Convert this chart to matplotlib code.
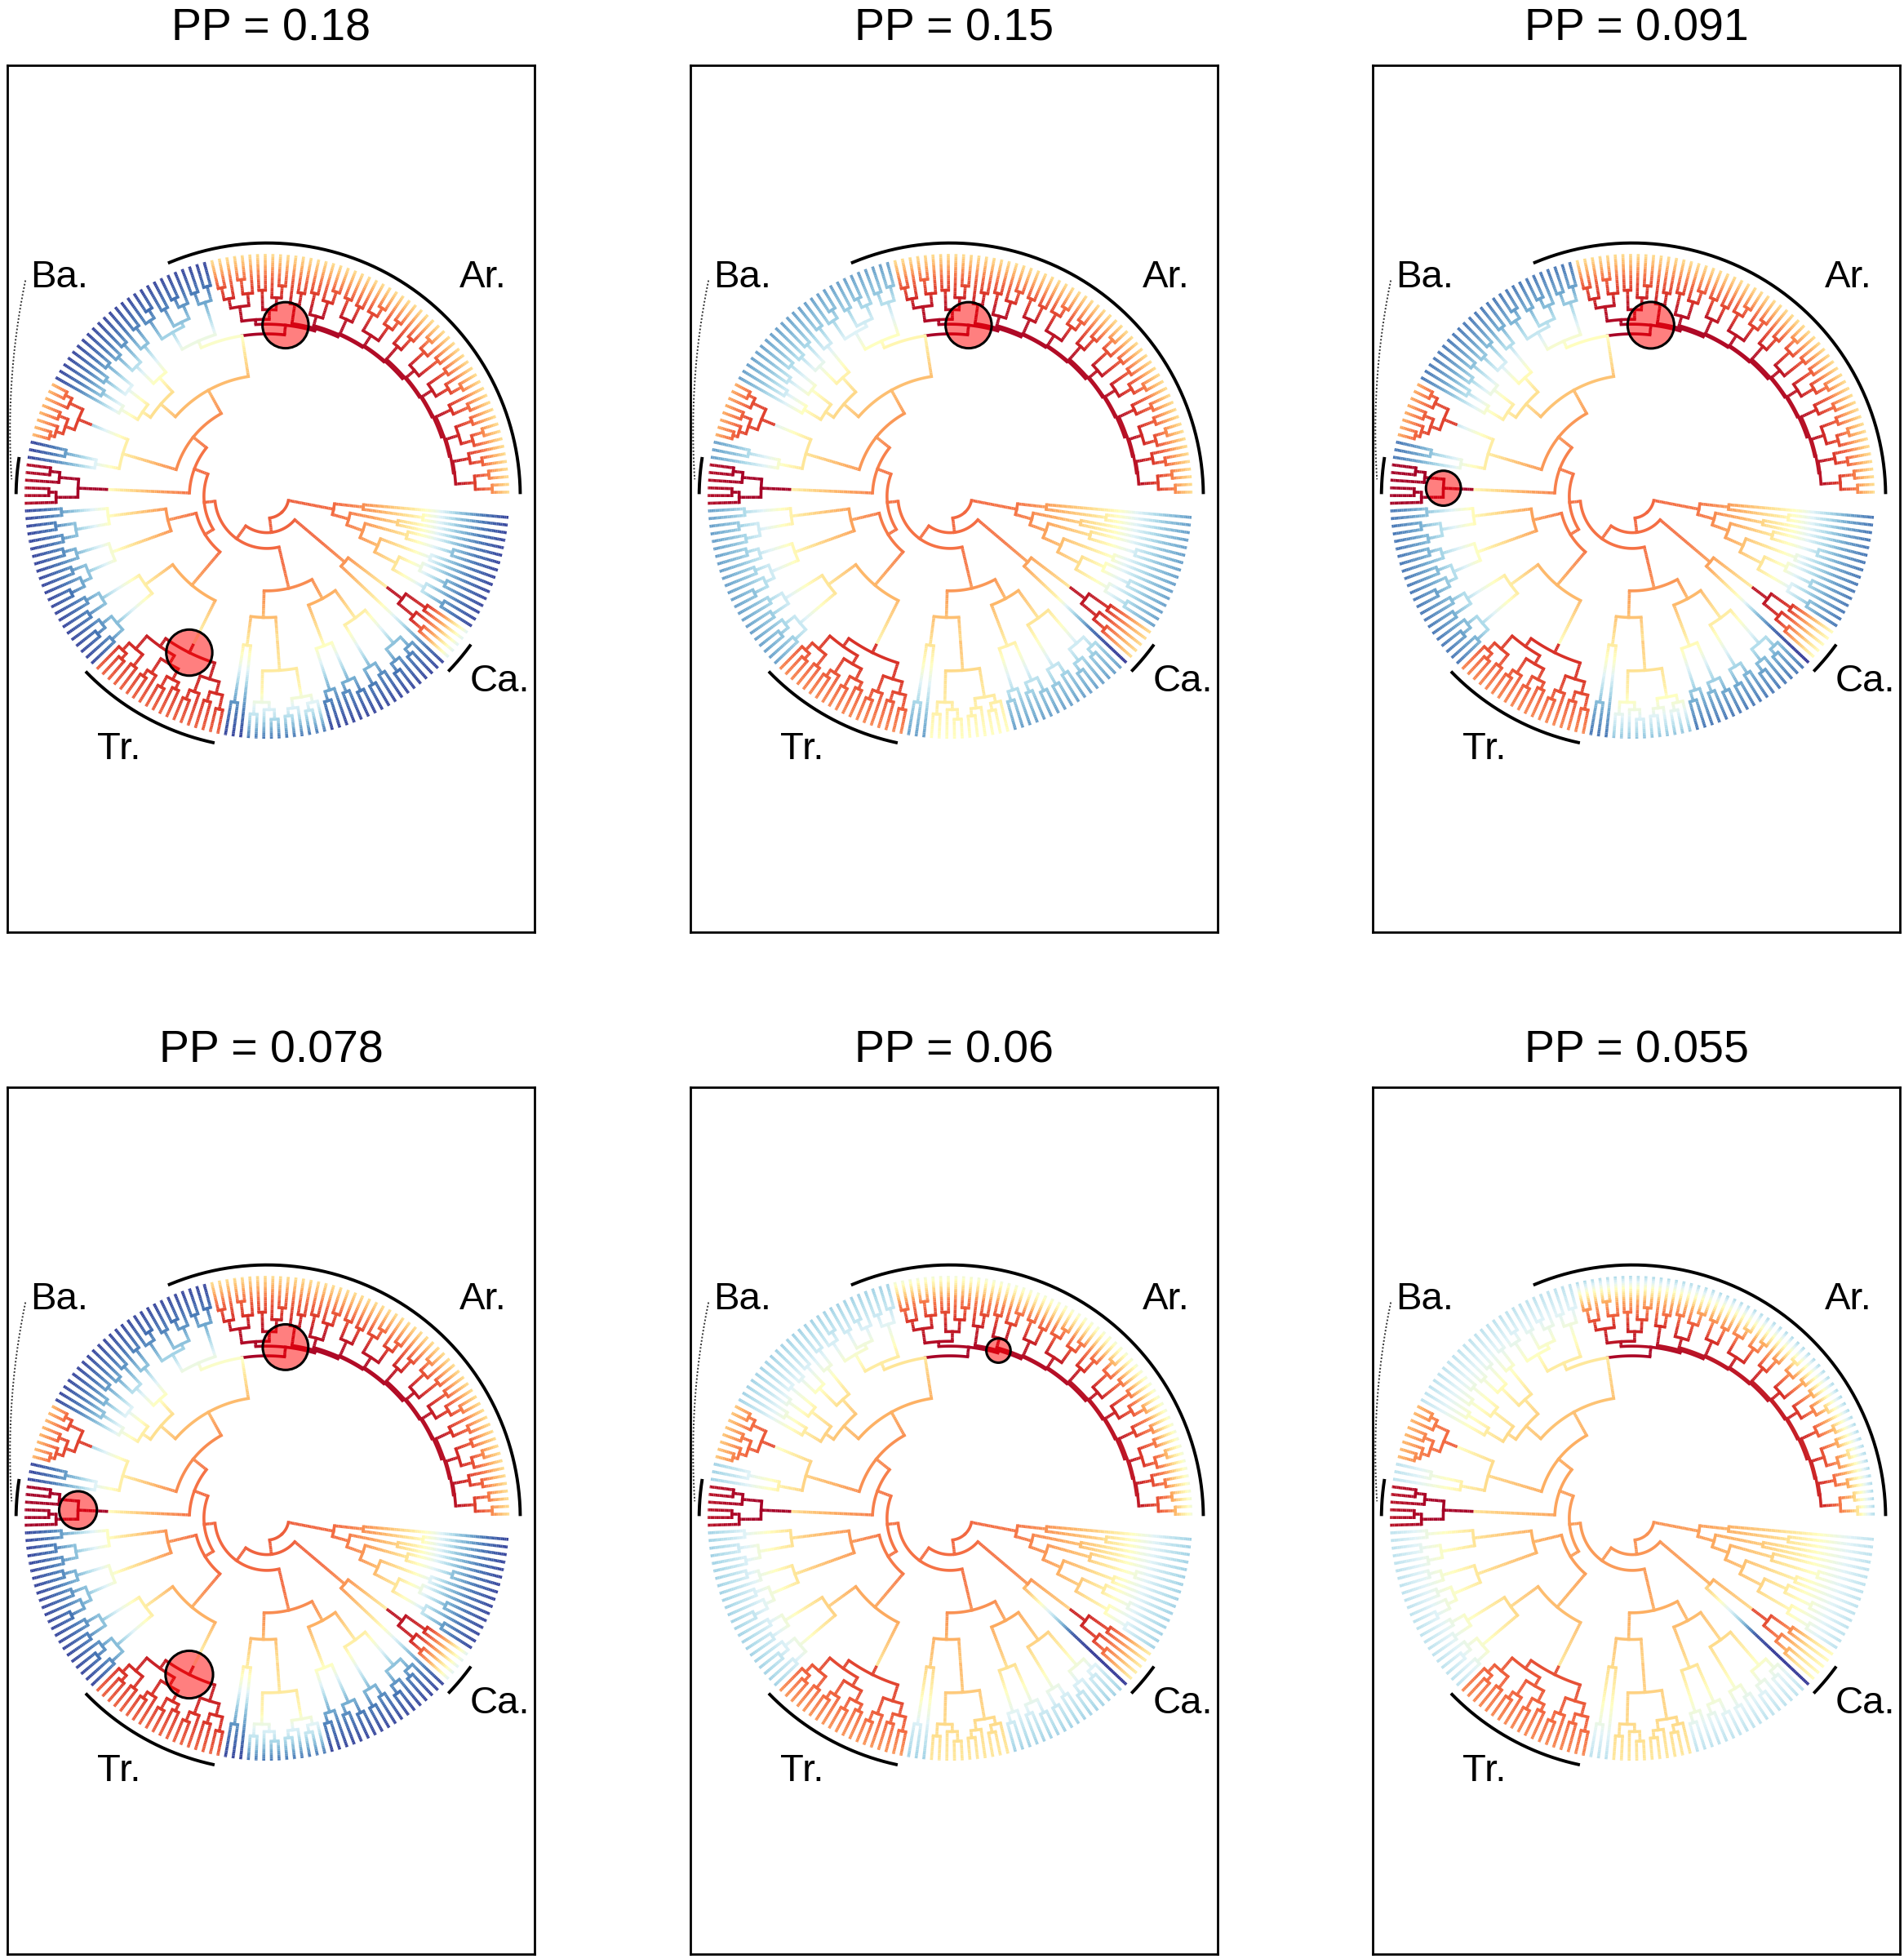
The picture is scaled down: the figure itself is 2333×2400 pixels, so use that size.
import re
import numpy as np
import matplotlib
matplotlib.use('Agg')
import matplotlib.pyplot as plt
from matplotlib.collections import LineCollection
from matplotlib.patches import Circle

plt.rcParams['font.family'] = ['Liberation Sans', 'DejaVu Sans']

# ---- tree, written as nested clades: "(a,b)r" = node at radius r, "t" = tip ----
AR_SUBS = [
    "((t,t)0.93,(t,t)0.92)0.86",
    "((t,t)0.9,t)0.85",
    "((t,(t,t)0.93)0.88,(t,t)0.9)0.83",
    "((t,t)0.91,t)0.84",
    "(((t,t)0.92,t)0.87,(t,t)0.9)0.81",
    "((t,t)0.9,(t,(t,t)0.93)0.88)0.8",
    "((t,t)0.88,t)0.82",
    "(((t,t)0.9,t)0.86,((t,t)0.91,t)0.87)0.79",
    "((t,t)0.87,(t,t)0.88)0.8",
    "(((t,t)0.89,t)0.84,(t,t)0.86)0.77",
    "((t,t)0.85,t)0.8",
]
AR_LADDER_R = [0.78, 0.775, 0.77, 0.76, 0.755, 0.75, 0.74, 0.735, 0.73, 0.72]
AR_TOP = "((((t,t)0.87,t)0.82,(t,t)0.85)0.77,((t,(t,t)0.9)0.84,(t,(t,t)0.88)0.83)0.79)0.73"

B1 = "(((t,t)0.9,(t,t)0.89)0.84,(((t,(t,t)0.9)0.86,(t,t)0.88)0.8,((t,t)0.91,t)0.87)0.78)0.7"
B2 = "((((t,t)0.88,t)0.8,((t,t)0.86,(t,t)0.84)0.76)0.66,(((t,t)0.85,(t,t)0.82)0.72,((t,t)0.8,t)0.7)0.62)0.58"
BARED = "(((t,t)0.93,t)0.9,((t,t)0.92,(t,(t,t)0.93)0.91)0.88)0.84#bared"
BL3 = "((t,t)0.85,t)0.72"
BASMALL = "(((t,t)0.9,t)0.86,((t,t)0.9,t)0.87)0.78#basmall"
BL_A = "((t,t)0.85,((t,t)0.88,(t,t)0.86)0.8)0.66"
BL_B = "(((t,t)0.87,t)0.82,((t,t)0.86,(t,(t,t)0.9)0.84)0.8)0.68"
BL_C = "(((t,t)0.86,(t,t)0.88)0.8,((t,(t,t)0.9)0.86,(t,t)0.87)0.81)0.62"
TR = ("((((t,(t,t)0.9)0.87,(t,t)0.89)0.83,(((t,t)0.9,t)0.87,((t,t)0.9,(t,t)0.88)0.85)0.8)0.76,"
      "(((t,t)0.9,t)0.86,((t,t)0.88,(t,t)0.9)0.84)0.79)0.72#tr")
BOT_L1 = "((t,t)0.86,t)0.62"
BOT_L2 = "(((t,t)0.9,(t,(t,t)0.92)0.88)0.85,(((t,t)0.91,t)0.88,((t,t)0.9,t)0.87)0.84)0.72#bot"
BOT_R1 = "(((t,t)0.88,t)0.84,((t,t)0.87,(t,t)0.89)0.83)0.66"
BOT_R2 = "(((t,t)0.89,(t,t)0.87)0.82,(((t,t)0.9,t)0.86,((t,t)0.88,t)0.85)0.8)0.62"
CA = "(t#calong,(((t,t)0.84,t)0.78,(t,t)0.8)0.7#cared)0.42"
CAUP_SUBS = ["((t,t)0.85,t)0.75", "((t,t)0.82,t)0.7", "(t,t)0.72", "((t,t)0.8,t)0.6", "(t,t)0.55"]
CAUP_LADDER_R = [0.6, 0.5, 0.42, 0.35]
CAUP_TOP = "((t,t)0.65,t)0.4"

TIP_FIRST, TIP_LAST = 1.0, 355.0   # degrees

# ---- colour profiles (RdYlBu_r value) at these radii, per panel ----
RK = [0.0, 0.3, 0.45, 0.6, 0.7, 0.8, 0.9, 1.0]
TITLES = ["PP = 0.18", "PP = 0.15", "PP = 0.091", "PP = 0.078", "PP = 0.06", "PP = 0.055"]
PROFILES = [
    {'bg': [0.83, 0.80, 0.72, 0.58, 0.44, 0.25, 0.10, 0.02],
     'ar': [1.0, 1.0, 1.0, 1.0, 0.99, 0.95, 0.82, 0.6],
     'tr': [0.95, 0.95, 0.95, 0.95, 0.94, 0.92, 0.88, 0.82],
     'bared': [0.88, 0.88, 0.88, 0.88, 0.88, 0.88, 0.85, 0.68],
     'basmall': [1.0, 1.0, 1.0, 1.0, 1.0, 1.0, 0.99, 0.97],
     'bot': [0.83, 0.80, 0.72, 0.62, 0.58, 0.53, 0.35, 0.1],
     'cared': [0.95, 0.95, 0.95, 0.95, 0.95, 0.9, 0.7, 0.4]},
    {'bg': [0.82, 0.78, 0.70, 0.60, 0.50, 0.37, 0.25, 0.17],
     'ar': [1.0, 1.0, 1.0, 1.0, 0.99, 0.95, 0.82, 0.6],
     'tr': [0.9, 0.9, 0.9, 0.9, 0.9, 0.88, 0.82, 0.76],
     'bared': [0.88, 0.88, 0.88, 0.88, 0.88, 0.88, 0.85, 0.7],
     'basmall': [1.0, 1.0, 1.0, 1.0, 1.0, 1.0, 0.99, 0.97],
     'bot': [0.82, 0.78, 0.72, 0.66, 0.62, 0.58, 0.54, 0.5],
     'cared': [0.95, 0.95, 0.95, 0.95, 0.95, 0.9, 0.75, 0.6],
     'calong': [0.82, 0.78, 0.7, 0.55, 0.3, 0.1, 0.02, 0.0]},
    {'bg': [0.82, 0.78, 0.70, 0.58, 0.47, 0.32, 0.18, 0.1],
     'ar': [1.0, 1.0, 1.0, 1.0, 0.99, 0.95, 0.82, 0.6],
     'tr': [0.9, 0.9, 0.9, 0.9, 0.9, 0.88, 0.82, 0.76],
     'bared': [0.88, 0.88, 0.88, 0.88, 0.88, 0.88, 0.85, 0.7],
     'basmall': [1.0, 1.0, 1.0, 1.0, 1.0, 1.0, 1.0, 1.0],
     'bot': [0.82, 0.78, 0.72, 0.64, 0.6, 0.55, 0.42, 0.25],
     'cared': [0.95, 0.95, 0.95, 0.95, 0.95, 0.88, 0.7, 0.5],
     'calong': [0.82, 0.78, 0.7, 0.5, 0.25, 0.08, 0.02, 0.0]},
    {'bg': [0.83, 0.80, 0.72, 0.58, 0.44, 0.25, 0.10, 0.02],
     'ar': [1.0, 1.0, 1.0, 1.0, 0.99, 0.95, 0.82, 0.6],
     'tr': [0.95, 0.95, 0.95, 0.95, 0.94, 0.92, 0.88, 0.82],
     'bared': [0.88, 0.88, 0.88, 0.88, 0.88, 0.88, 0.85, 0.68],
     'basmall': [1.0, 1.0, 1.0, 1.0, 1.0, 1.0, 1.0, 1.0],
     'bot': [0.83, 0.80, 0.72, 0.62, 0.58, 0.53, 0.35, 0.1],
     'cared': [0.95, 0.95, 0.95, 0.95, 0.95, 0.9, 0.7, 0.4]},
    {'bg': [0.82, 0.78, 0.72, 0.64, 0.56, 0.45, 0.35, 0.28],
     'ar': [1.0, 1.0, 1.0, 1.0, 0.99, 0.93, 0.78, 0.45],
     'tr': [0.88, 0.88, 0.88, 0.88, 0.87, 0.85, 0.8, 0.74],
     'bared': [0.85, 0.85, 0.85, 0.85, 0.85, 0.85, 0.8, 0.65],
     'basmall': [1.0, 1.0, 1.0, 1.0, 1.0, 1.0, 0.98, 0.96],
     'bot': [0.8, 0.78, 0.72, 0.68, 0.65, 0.62, 0.6, 0.58],
     'cared': [0.92, 0.92, 0.92, 0.92, 0.92, 0.85, 0.72, 0.55],
     'calong': [0.8, 0.76, 0.65, 0.3, 0.05, 0.0, 0.0, 0.0]},
    {'bg': [0.75, 0.72, 0.68, 0.62, 0.56, 0.48, 0.4, 0.33],
     'ar': [1.0, 1.0, 1.0, 1.0, 0.98, 0.9, 0.7, 0.3],
     'tr': [0.85, 0.85, 0.85, 0.85, 0.85, 0.83, 0.8, 0.76],
     'bared': [0.82, 0.82, 0.82, 0.82, 0.82, 0.82, 0.78, 0.68],
     'basmall': [1.0, 1.0, 1.0, 1.0, 1.0, 1.0, 0.98, 0.96],
     'bot': [0.75, 0.72, 0.68, 0.65, 0.63, 0.62, 0.6, 0.58],
     'cared': [0.85, 0.85, 0.85, 0.85, 0.85, 0.75, 0.6, 0.5],
     'calong': [0.75, 0.72, 0.6, 0.3, 0.05, 0.0, 0.0, 0.0]},
]
SHIFT_R = {'ar': 0.67, 'tr': 0.68, 'basmall': 0.66, 'bared': 0.78,
           'bot': 0.6, 'cared': 0.62, 'calong': 0.42}
# shift markers per panel: (node, marker radius)
SHIFTS = [
    [('ar', 0.095), ('tr', 0.095)],
    [('ar', 0.095)],
    [('ar', 0.096), ('basmall', 0.072)],
    [('ar', 0.094), ('basmall', 0.078), ('tr', 0.098)],
    [('ar_ladder', 0.05)],
    [],
]
CLADE_LABELS = [("Ba.", -0.857, 0.902), ("Ar.", 0.89, 0.902), ("Ca.", 0.96, -0.765), ("Tr.", -0.61, -1.045)]
BRACKETS = [(0.5, 113.0, 1.045), (224.0, 258.0, 1.04), (316.0, 324.0, 1.04), (171.0, 179.5, 1.035)]

# ---- assemble the tree string ----
s = AR_SUBS[0]
for sub, r in zip(AR_SUBS[1:], AR_LADDER_R):
    s = f"({s},{sub}){r}"
AR = f"({s}#ar_ladder,{AR_TOP})0.71#ar"
s = CAUP_SUBS[0]
for sub, r in zip(CAUP_SUBS[1:], CAUP_LADDER_R):
    s = f"({s},{sub}){r}"
CAUP = f"({s},{CAUP_TOP})0.28"
U = f"(((({AR},{B1})0.67,{B2})0.5,({BARED},{BL3})0.62)0.39,{BASMALL})0.32"
LO = f"(({BL_A},{BL_B})0.42,({BL_C},{TR})0.48)0.3"
BOT = f"(({BOT_L1},{BOT_L2})0.5,({BOT_R1},{BOT_R2})0.48)0.39"
TREE = f"(((({U},{LO})0.26,{BOT})0.215,{CA})0.15,{CAUP})0.09"


def parse(txt):
    pos = 0
    num = re.compile(r'[0-9.]+')
    lab = re.compile(r'#(\w+)')

    def read():
        nonlocal pos
        if txt[pos] == '(':
            pos += 1
            kids = [read()]
            while txt[pos] == ',':
                pos += 1
                kids.append(read())
            pos += 1
            m = num.match(txt, pos)
            r = float(m.group())
            pos = m.end()
        else:
            pos += 1
            kids, r = [], 1.0
        name = None
        m = lab.match(txt, pos)
        if m:
            name = m.group(1)
            pos = m.end()
        return {'kids': kids, 'r': r, 'name': name}
    return read()


root = parse(TREE)
nodes, tips = [], []


def collect(n, parent):
    n['parent'] = parent
    nodes.append(n)
    for k in n['kids']:
        collect(k, n)
    if not n['kids']:
        tips.append(n)


collect(root, None)
tip_deg = np.linspace(TIP_FIRST, TIP_LAST, len(tips))
for t, d in zip(tips, tip_deg):
    t['th'] = np.radians(d)


def set_angle(n):
    if n['kids']:
        n['th'] = np.mean([set_angle(k) for k in n['kids']])
    return n['th']


set_angle(root)
named = {n['name']: n for n in nodes if n['name']}
cmap = plt.get_cmap('RdYlBu_r')
LW = 2.6


def draw_panel(ax, prof, shifts):
    regs = {}
    for n in nodes:  # preorder: parents come first
        if n['name'] in prof:
            regs[id(n)] = n['name']
        elif n['parent'] is None:
            regs[id(n)] = 'bg'
        else:
            regs[id(n)] = regs[id(n['parent'])]

    def val(c, r):
        reg = regs[id(c)]
        if c['name'] == reg and r < SHIFT_R.get(reg, c['r']):
            reg = regs[id(c['parent'])]
        return np.interp(r, RK, prof[reg])

    rad_segs, rad_cols, arc_segs, arc_cols = [], [], [], []
    for c in nodes:
        p = c['parent']
        if p is None:
            continue
        th, r0, r1 = c['th'], p['r'], c['r']
        rs = np.append(np.arange(r0, r1, 0.008), r1)
        for a, b in zip(rs[:-1], rs[1:]):
            rad_segs.append([(a * np.cos(th), a * np.sin(th)), (b * np.cos(th), b * np.sin(th))])
            rad_cols.append(cmap(val(c, 0.5 * (a + b))))
        npt = max(2, int(abs(np.degrees(th - p['th'])) / 0.5) + 2)
        ths = np.linspace(p['th'], th, npt)
        arc_segs.append(np.column_stack([r0 * np.cos(ths), r0 * np.sin(ths)]))
        arc_cols.append(cmap(val(c, r0 + 1e-6)))
    ax.add_collection(LineCollection(arc_segs, colors=arc_cols, linewidths=LW, capstyle='projecting'))
    ax.add_collection(LineCollection(rad_segs, colors=rad_cols, linewidths=LW, capstyle='butt'))

    for name, size in shifts:
        n = named[name]
        ax.add_patch(Circle((n['r'] * np.cos(n['th']), n['r'] * np.sin(n['th'])), size,
                            facecolor=(1, 0, 0, 0.5), edgecolor='black', linewidth=2.2, zorder=5))

    for a0, a1, rb in BRACKETS:
        t = np.radians(np.linspace(a0, a1, 200))
        ax.plot(rb * np.cos(t), rb * np.sin(t), color='black', lw=2.8, solid_capstyle='butt')
    t = np.radians(np.linspace(168.3, 183.75, 200))
    ax.plot(2.0 + 3.06 * np.cos(t), 0.27 + 3.06 * np.sin(t), color='#333333', lw=1.4,
            linestyle=(0, (1, 1.2)))
    for txt, x, y in CLADE_LABELS:
        ax.text(x, y, txt, fontsize=34, ha='center', va='center')


fig = plt.figure(figsize=(23.33, 24.0), dpi=100)
W, H = 2333.0, 2400.0
col_left = [9, 846, 1682]
row_top = [80, 1332]
for i in range(6):
    left = col_left[i % 3] / W
    bottom = 1 - (row_top[i // 3] + 1062) / H
    ax = fig.add_axes([left, bottom, 646 / W, 1062 / H])
    draw_panel(ax, PROFILES[i], SHIFTS[i])
    ax.set_xlim(-1.071, 1.104)
    ax.set_ylim(-1.798, 1.778)
    ax.set_xticks([])
    ax.set_yticks([])
    for sp in ax.spines.values():
        sp.set_linewidth(2.0)
        sp.set_color('black')
    ax.set_title(TITLES[i], fontsize=40, pad=22)

fig.savefig('out.png', dpi=100)
